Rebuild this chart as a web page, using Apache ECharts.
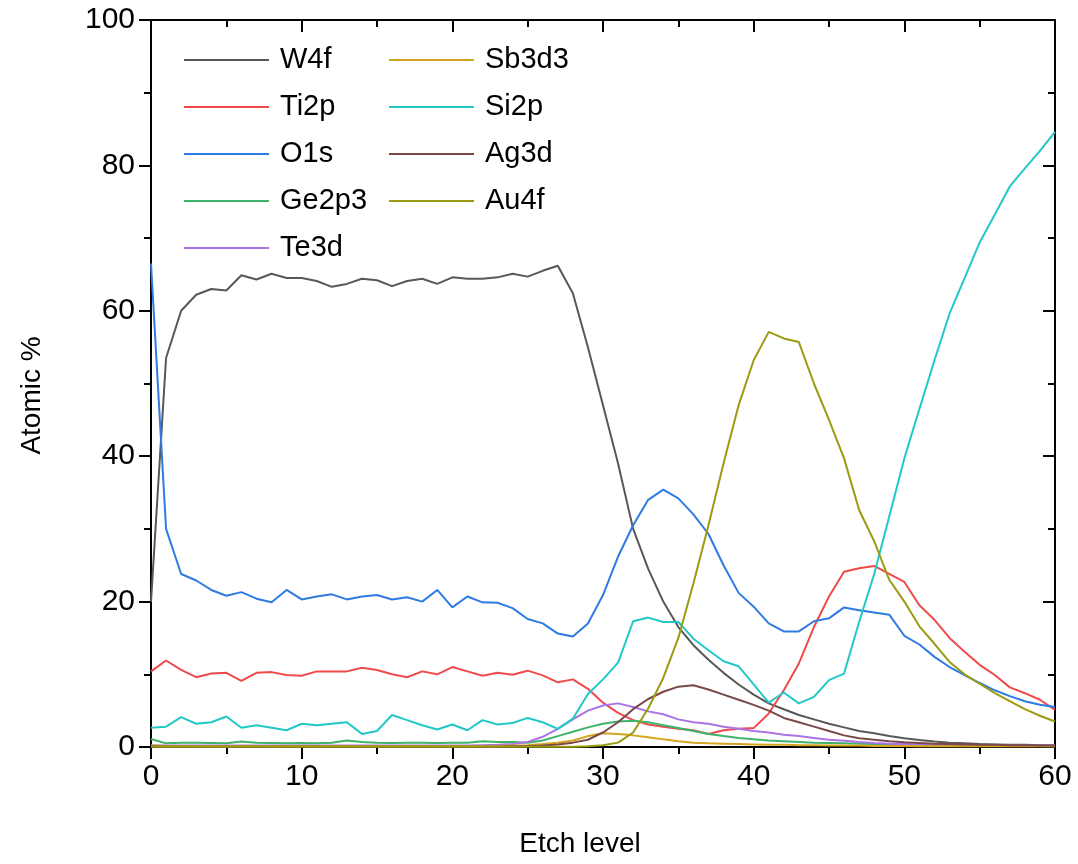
<!DOCTYPE html>
<html>
<head>
<meta charset="utf-8">
<script src="https://cdn.jsdelivr.net/npm/echarts@6/dist/echarts.min.js"></script>
<style>
html,body{margin:0;padding:0;background:#fff;}
#chart{width:1078px;height:864px;}
</style>
</head>
<body>
<div id="chart"></div>
<script>
const etchLevels = [0,1,2,3,4,5,6,7,8,9,10,11,12,13,14,15,16,17,18,19,20,21,22,23,24,25,26,27,28,29,30,31,32,33,34,35,36,37,38,39,40,41,42,43,44,45,46,47,48,49,50,51,52,53,54,55,56,57,58,59,60];

const W4f = [20,53.5,60,62.2,63,62.8,64.9,64.3,65.1,64.5,64.5,64.1,63.3,63.7,64.4,64.2,63.4,64.1,64.4,63.7,64.6,64.4,64.4,64.6,65.1,64.7,65.5,66.2,62.4,55,47,39,30,24.5,20,16.5,14,12,10.2,8.6,7.2,6,5.2,4.4,3.8,3.2,2.7,2.2,1.9,1.5,1.2,0.95,0.75,0.6,0.5,0.4,0.35,0.3,0.3,0.25,0.2];
const Ti2p = [10.4,11.9,10.6,9.6,10.1,10.2,9.1,10.2,10.3,9.9,9.8,10.4,10.4,10.4,10.9,10.6,10.0,9.6,10.4,10.0,11.0,10.4,9.8,10.2,9.95,10.5,9.85,8.9,9.3,8.0,6.1,4.7,3.7,3.1,2.8,2.5,2.3,1.8,2.3,2.5,2.6,4.6,7.8,11.5,16.5,20.7,24.1,24.6,24.9,23.8,22.7,19.5,17.5,15.0,13.1,11.3,9.9,8.2,7.4,6.5,5.1];
const O1s = [66.5,30,23.8,22.9,21.6,20.8,21.3,20.4,19.9,21.6,20.3,20.7,21.0,20.3,20.7,20.9,20.3,20.6,20.0,21.6,19.2,20.7,19.9,19.85,19.1,17.6,17.0,15.6,15.2,17.0,20.9,26.2,30.5,34,35.4,34.2,32,29.3,25,21.2,19.3,17.0,15.9,15.9,17.3,17.7,19.2,18.8,18.5,18.2,15.3,14.1,12.4,11.0,9.9,8.8,7.8,7.0,6.3,5.8,5.5];
const Ge2p3 = [1.1,0.5,0.6,0.6,0.55,0.5,0.75,0.6,0.55,0.5,0.55,0.5,0.6,0.9,0.7,0.6,0.55,0.6,0.6,0.55,0.6,0.6,0.8,0.7,0.7,0.6,0.9,1.5,2.1,2.7,3.2,3.5,3.6,3.4,3.0,2.6,2.2,1.8,1.5,1.25,1.05,0.9,0.8,0.7,0.6,0.55,0.5,0.45,0.4,0.35,0.3,0.3,0.25,0.25,0.2,0.2,0.2,0.15,0.15,0.15,0.1];
const Te3d = [0.2,0.2,0.2,0.2,0.2,0.2,0.2,0.2,0.2,0.2,0.2,0.2,0.2,0.2,0.2,0.2,0.2,0.2,0.2,0.2,0.2,0.2,0.25,0.3,0.4,0.7,1.4,2.5,3.8,5.0,5.7,6.0,5.5,4.9,4.5,3.8,3.4,3.2,2.8,2.5,2.2,2.0,1.7,1.5,1.25,1.0,0.85,0.7,0.55,0.45,0.4,0.35,0.3,0.3,0.25,0.25,0.2,0.2,0.2,0.2,0.2];
const Sb3d3 = [0.2,0.15,0.15,0.1,0.15,0.1,0.15,0.15,0.1,0.15,0.15,0.1,0.15,0.15,0.1,0.15,0.1,0.15,0.15,0.1,0.15,0.15,0.1,0.15,0.2,0.25,0.4,0.6,0.9,1.5,1.9,1.8,1.6,1.35,1.05,0.8,0.6,0.5,0.45,0.4,0.35,0.3,0.3,0.25,0.25,0.2,0.2,0.2,0.15,0.15,0.15,0.1,0.1,0.1,0.1,0.1,0.1,0.1,0.1,0.1,0.1];
const Si2p = [2.65,2.8,4.1,3.2,3.4,4.2,2.65,3.0,2.65,2.3,3.2,3.0,3.2,3.4,1.8,2.2,4.4,3.7,3.0,2.4,3.1,2.3,3.7,3.1,3.3,4.0,3.4,2.5,3.9,7.3,9.3,11.6,17.3,17.8,17.2,17.2,14.9,13.3,11.8,11.1,8.6,6.1,7.5,6.0,6.9,9.2,10.1,17.2,23.8,31.7,39.7,46.5,53.2,59.6,64.5,69.4,73.2,77.1,79.6,82,84.6];
const Ag3d = [0.1,0.05,0.05,0.05,0.05,0.05,0.05,0.05,0.05,0.05,0.05,0.05,0.05,0.05,0.05,0.05,0.05,0.05,0.05,0.05,0.05,0.05,0.05,0.05,0.1,0.1,0.2,0.35,0.6,1.0,2.0,3.4,5.2,6.6,7.6,8.3,8.5,7.9,7.2,6.5,5.8,5.0,4.0,3.4,2.8,2.2,1.6,1.2,1.0,0.8,0.65,0.55,0.45,0.4,0.35,0.3,0.3,0.25,0.25,0.2,0.2];
const Au4f = [0.05,0.05,0.05,0.05,0.05,0.05,0.05,0.05,0.05,0.05,0.05,0.05,0.05,0.05,0.05,0.05,0.05,0.05,0.05,0.05,0.05,0.05,0.05,0.05,0.05,0.05,0.05,0.05,0.05,0.1,0.25,0.6,2.0,5.3,9.5,15,22.5,30.5,39,47,53.2,57.1,56.2,55.7,50,45,39.7,32.6,28.3,23,20,16.6,14.2,11.7,10,8.7,7.4,6.3,5.2,4.3,3.5];

const seriesNames = ['W4f','Ti2p','O1s','Ge2p3','Te3d','Sb3d3','Si2p','Ag3d','Au4f'];
const seriesValues = [W4f,Ti2p,O1s,Ge2p3,Te3d,Sb3d3,Si2p,Ag3d,Au4f];
const seriesColors = ['#585858','#F04A4A','#2E7BE2','#3DB46A','#AA74E6','#D6A51E','#22C8C8','#7A4848','#9B9B12'];
const xTicks = {min:0, max:60, interval:10};
const yTicks = {min:0, max:100, interval:20};

const FONT = '"Liberation Sans", Arial, sans-serif';
const chart = echarts.init(document.getElementById('chart'));

const axisCommon = {
  axisLine:{show:true, onZero:false, lineStyle:{color:'#000', width:2}},
  splitLine:{show:false},
  minorSplitLine:{show:false}
};

const series = seriesNames.map((n,i)=>({
  name:n, type:'line', xAxisIndex:0, yAxisIndex:0,
  data: etchLevels.map((x,j)=>[x, seriesValues[i][j]]),
  symbol:'none', showSymbol:false,
  lineStyle:{width:2, color:seriesColors[i]},
  itemStyle:{color:seriesColors[i]},
  emphasis:{disabled:true}, animation:false
}));

const legendCommon = {
  orient:'vertical', icon:'rect', itemWidth:85, itemHeight:2, itemGap:17, padding:0,
  textStyle:{fontSize:29, fontFamily:FONT, color:'#000', lineHeight:30, padding:[0,0,0,6]},
  selectedMode:false
};

chart.setOption({
  animation:false,
  backgroundColor:'#fff',
  grid:{left:151, right:23, top:20, bottom:117, containLabel:false},
  legend:[
    Object.assign({}, legendCommon, {left:184, top:45, data:seriesNames.slice(0,5)}),
    Object.assign({}, legendCommon, {left:389, top:45, data:seriesNames.slice(5)})
  ],
  xAxis:[
    Object.assign({}, axisCommon, {
      type:'value', position:'bottom', min:xTicks.min, max:xTicks.max, interval:xTicks.interval,
      axisTick:{show:true, inside:false, length:12, lineStyle:{color:'#000', width:2}},
      minorTick:{show:true, splitNumber:2, length:7, lineStyle:{color:'#000', width:2}},
      axisLabel:{fontSize:30, fontFamily:FONT, color:'#000', margin:15},
      name:'Etch level', nameLocation:'middle', nameGap:83,
      nameTextStyle:{fontSize:28, fontFamily:FONT, color:'#000', padding:[0,46,0,0]}
    }),
    Object.assign({}, axisCommon, {
      type:'value', position:'top', min:xTicks.min, max:xTicks.max, interval:xTicks.interval,
      axisTick:{show:true, inside:true, length:12, lineStyle:{color:'#000', width:2}},
      minorTick:{show:true, splitNumber:2, length:7, lineStyle:{color:'#000', width:2}},
      axisLabel:{show:false}
    })
  ],
  yAxis:[
    Object.assign({}, axisCommon, {
      type:'value', position:'left', min:yTicks.min, max:yTicks.max, interval:yTicks.interval,
      axisTick:{show:true, inside:false, length:12, lineStyle:{color:'#000', width:2}},
      minorTick:{show:true, splitNumber:2, length:7, lineStyle:{color:'#000', width:2}},
      axisLabel:{fontSize:30, fontFamily:FONT, color:'#000', margin:16},
      name:'Atomic %', nameLocation:'middle', nameGap:105,
      nameTextStyle:{fontSize:28, fontFamily:FONT, color:'#000', padding:[0,24,0,0]}
    }),
    Object.assign({}, axisCommon, {
      type:'value', position:'right', min:yTicks.min, max:yTicks.max, interval:yTicks.interval,
      axisTick:{show:true, inside:true, length:12, lineStyle:{color:'#000', width:2}},
      minorTick:{show:true, splitNumber:2, length:7, lineStyle:{color:'#000', width:2}},
      axisLabel:{show:false}
    })
  ],
  series: series
});
</script>
</body>
</html>
